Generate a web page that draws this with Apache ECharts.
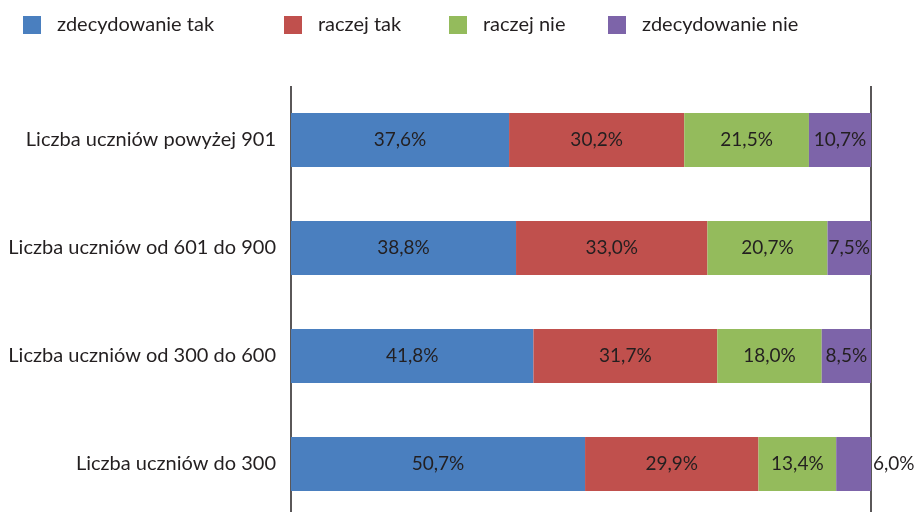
<!DOCTYPE html>
<html><head><meta charset="utf-8">
<script src="https://cdn.jsdelivr.net/npm/echarts@6/dist/echarts.min.js"></script>
<style>html,body{margin:0;padding:0;background:#fff;overflow:hidden}#c{width:917px;height:518px}</style>
</head><body><div id="c"></div>
<script>
const categories = ['Liczba uczniów powyżej 901','Liczba uczniów od 601 do 900','Liczba uczniów od 300 do 600','Liczba uczniów do 300'];
const seriesNames = ['zdecydowanie tak','raczej tak','raczej nie','zdecydowanie nie'];
const zdecydowanieTak = [37.6, 38.8, 41.8, 50.7];
const raczejTak = [30.2, 33.0, 31.7, 29.9];
const raczejNie = [21.5, 20.7, 18.0, 13.4];
const zdecydowanieNie = [10.7, 7.5, 8.5, 6.0];
const xTicks = [0, 100];

const colors = ['#4A7FBF','#C0504D','#94BB5C','#7D64A9'];
const values = [zdecydowanieTak, raczejTak, raczejNie, zdecydowanieNie];
const FONT = 'Lato';
const fmt = v => v.toFixed(1).replace('.', ',') + '%';

const series = seriesNames.map((name, i) => ({
  name, type: 'bar', stack: 'all', barCategoryGap: '50%',
  itemStyle: {color: colors[i]},
  label: {show: true, position: 'inside', color: '#231f20', fontFamily: FONT, fontSize: 19,
    formatter: p => fmt(p.value)},
  data: values[i].map((v, j) => {
    if (i === 3 && j === 3) return {value: v, label: {position: 'right', distance: 2}};
    return v;
  })
}));

const legendX = [23, 284, 449, 608];
const legends = seriesNames.map((n, i) => ({
  data: [n], left: legendX[i], top: 15, itemWidth: 18, itemHeight: 18, itemGap: 0, padding: 0,
  icon: 'rect', textStyle: {fontFamily: FONT, fontSize: 20, lineHeight: 18, color: '#231f20', padding: [0,0,0,11]},
  selectedMode: false
}));

const chart = echarts.init(document.getElementById('c'), null, {renderer: 'canvas'});
chart.setOption({
  animation: false,
  legend: legends,
  grid: {left: 291, right: 46, top: 86, bottom: 0, containLabel: false},
  xAxis: {type: 'value', min: xTicks[0], max: xTicks[1], interval: 100,
    axisLine: {show: false}, axisTick: {show: false}, axisLabel: {show: false},
    splitLine: {show: true, lineStyle: {color: '#231f20', width: 1.5}}},
  yAxis: {type: 'category', data: categories, inverse: true,
    axisLine: {show: false}, axisTick: {show: false},
    axisLabel: {fontFamily: FONT, fontSize: 20, color: '#231f20', margin: 15}},
  series
});
</script></body></html>
